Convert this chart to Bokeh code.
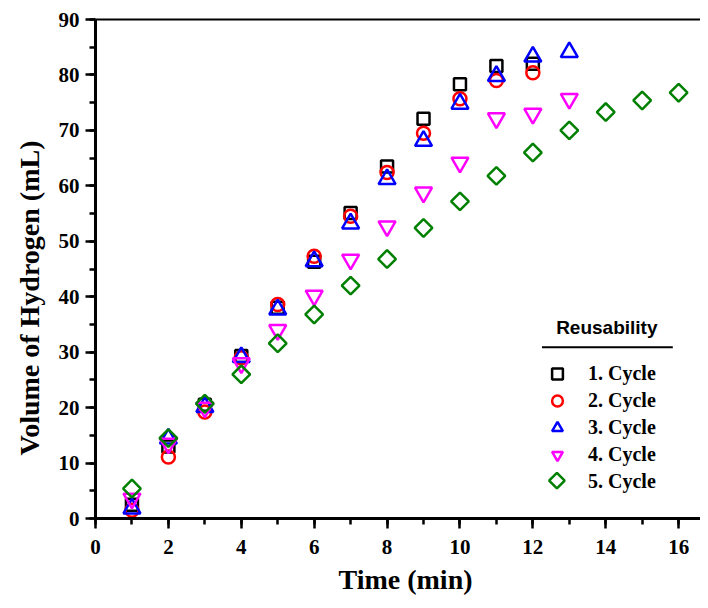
import math
from bokeh.plotting import figure
from bokeh.models import (Range1d, SingleIntervalTicker, LinearAxis, Legend, LegendItem,
                          Label, BoxAnnotation, Title)
from bokeh.embed import file_html
from bokeh.resources import INLINE

cycle1_t = [1, 2, 3, 4, 5, 6, 7, 8, 9, 10, 11, 12]
cycle1_v = [2.5, 13.0, 20.5, 29.3, 38.0, 46.3, 55.1, 63.5, 72.1, 78.3, 81.6, 82.0]

cycle2_t = [1, 2, 3, 4, 5, 6, 7, 8, 9, 10, 11, 12]
cycle2_v = [1.5, 11.1, 19.2, 29.0, 38.6, 47.3, 54.5, 62.4, 69.5, 75.7, 79.0, 80.4]

cycle3_t = [1, 2, 3, 4, 5, 6, 7, 8, 9, 10, 11, 12, 13]
cycle3_v = [1.8, 14.4, 20.1, 29.1, 37.7, 46.4, 53.2, 61.2, 68.1, 74.8, 79.8, 83.3, 84.1]

cycle4_t = [1, 2, 3, 4, 5, 6, 7, 8, 9, 10, 11, 12, 13]
cycle4_v = [3.6, 13.5, 20.0, 28.0, 34.0, 40.2, 46.7, 52.7, 58.8, 64.2, 72.2, 73.0, 75.7]

cycle5_t = [1, 2, 3, 4, 5, 6, 7, 8, 9, 10, 11, 12, 13, 14, 15, 16]
cycle5_v = [5.4, 14.5, 20.7, 26.0, 31.6, 36.8, 42.0, 46.8, 52.4, 57.2, 61.8, 66.0, 70.0, 73.3, 75.4, 76.8]

legend_labels = ["1. Cycle", "2. Cycle", "3. Cycle", "4. Cycle", "5. Cycle"]
legend_title = "Reusability"
x_label = "Time (min)"
y_label = "Volume of Hydrogen (mL)"

SERIF = "Liberation Serif"
SANS = "Liberation Sans"

p = figure(width=700, height=600, output_backend="svg", toolbar_location=None,
           x_range=Range1d(0, 16.6), y_range=Range1d(0, 90),
           min_border_left=94, min_border_top=19, min_border_right=0, min_border_bottom=60,
           x_axis_location=None, y_axis_location=None)
p.grid.visible = False
p.outline_line_color = None
p.background_fill_color = "white"
p.border_fill_color = "white"

def style_axis(ax):
    ax.axis_line_width = 3
    ax.axis_line_color = "black"
    ax.major_tick_line_width = 2.5
    ax.minor_tick_line_width = 2.5
    ax.major_tick_out = 10
    ax.major_tick_in = 0
    ax.minor_tick_out = 6
    ax.minor_tick_in = 0
    ax.major_label_text_font = SERIF
    ax.major_label_text_font_style = "bold"
    ax.major_label_text_font_size = "21px"
    ax.major_label_text_color = "black"

xax = LinearAxis(ticker=SingleIntervalTicker(interval=2, num_minor_ticks=2))
style_axis(xax)
xax.major_label_standoff = 11
p.add_layout(xax, "below")

xtitle = Title(text=x_label, align="left", offset=243, standoff=11,
               text_font=SERIF, text_font_style="bold", text_font_size="28px",
               text_color="black")
p.add_layout(xtitle, "below")

yax = LinearAxis(ticker=SingleIntervalTicker(interval=10, num_minor_ticks=2))
style_axis(yax)
yax.major_label_standoff = 6
p.add_layout(yax, "left")

top = LinearAxis(ticker=SingleIntervalTicker(interval=2, num_minor_ticks=2))
top.axis_line_width = 2
top.major_tick_line_color = None
top.minor_tick_line_color = None
top.major_label_text_font_size = "0px"
top.major_label_text_alpha = 0
p.add_layout(top, "above")

ytitle = Title(text=y_label, align="left", offset=63, standoff=22,
               text_font=SERIF, text_font_style="bold", text_font_size="28px",
               text_color="black")
p.add_layout(ytitle, "left")

lw = 2.5
r1 = p.scatter(cycle1_t, cycle1_v, marker="square", size=12, fill_color=None,
               line_color="black", line_width=lw)
r2 = p.scatter(cycle2_t, cycle2_v, marker="circle", size=13, fill_color=None,
               line_color="#ff0000", line_width=lw)
r3 = p.scatter(cycle3_t, cycle3_v, marker="triangle", size=17, fill_color=None,
               line_color="#0000ff", line_width=lw)
r4 = p.scatter(cycle4_t, cycle4_v, marker="inverted_triangle", size=17, fill_color=None,
               line_color="#ff00ff", line_width=lw)
r5 = p.scatter(cycle5_t, cycle5_v, marker="square", size=12.5, angle=math.pi / 4,
               fill_color=None, line_color="#008000", line_width=lw)

# legend key for cycle 5: the built-in legend drops the marker rotation,
# so an empty placeholder renderer is used and the diamond key is drawn separately
r5_key_empty = p.scatter([], [], marker="square", size=1, fill_alpha=0, line_alpha=0)
p.scatter([12.66], [6.83], marker="square", size=11, angle=math.pi / 4,
          fill_color=None, line_color="#008000", line_width=lw)

legend = Legend(items=[LegendItem(label=l, renderers=[r]) for l, r in
                       zip(legend_labels, [r1, r2, r3, r4, r5_key_empty])],
                location=(448, 23), orientation="vertical")
legend.border_line_color = None
legend.background_fill_alpha = 0
legend.padding = 0
legend.margin = 0
legend.spacing = 0
legend.label_height = 27
legend.glyph_height = 27
legend.glyph_width = 28
legend.label_standoff = 17
legend.label_text_font = SERIF
legend.label_text_font_style = "bold"
legend.label_text_font_size = "20px"
legend.label_text_color = "black"
p.add_layout(legend, "center")

title = Label(x=14.03, y=34.5, text=legend_title, text_align="center",
              text_baseline="middle", text_font=SANS, text_font_style="bold",
              text_font_size="19px", text_color="black")
p.add_layout(title)

underline = BoxAnnotation(left=12.25, right=15.84, bottom=30.72, top=31.08,
                          fill_color="black", fill_alpha=1, line_color=None)
p.add_layout(underline)

open("out.html", "w").write(file_html(p, INLINE))
